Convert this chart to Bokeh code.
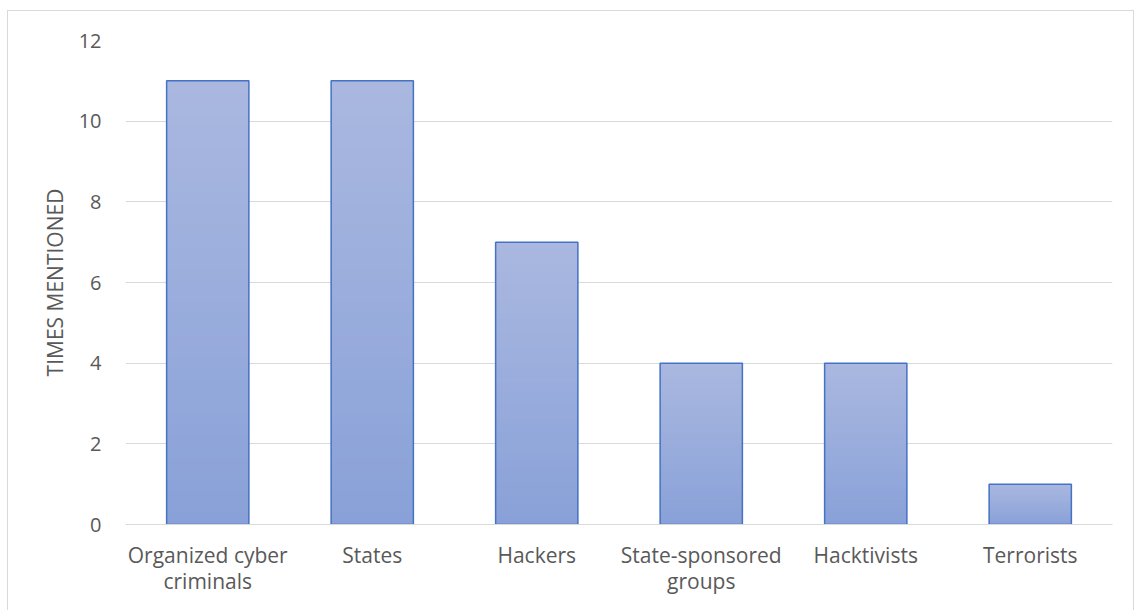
from bokeh.plotting import figure
from bokeh.models import ColumnDataSource
from bokeh.embed import file_html
from bokeh.resources import INLINE

categories = ["Organized cyber\ncriminals", "States", "Hackers", "State-sponsored\ngroups", "Hacktivists", "Terrorists"]
values = [11, 11, 7, 4, 4, 1]
y_ticks = [0, 2, 4, 6, 8, 10, 12]

FONT = "Open Sans"
top_rgb = (0xAA, 0xB8, 0xE0)
bot_rgb = (0x89, 0xA1, 0xD8)
N = 40

xs, bottoms, tops, colors = [], [], [], []
for c, v in zip(categories, values):
    for k in range(N):
        t = (k + 0.5) / N  # 0 bottom -> 1 top
        rgb = tuple(int(round(b + (tp - b) * t)) for b, tp in zip(bot_rgb, top_rgb))
        xs.append(c)
        bottoms.append(v * k / N)
        tops.append(min(v, v * (k + 1.8) / N))
        colors.append("#%02x%02x%02x" % rgb)

p = figure(x_range=categories, y_range=(0, 12), width=1127, height=600,
           frame_width=987, frame_height=484,
           min_border_left=117, min_border_right=21, min_border_top=29, min_border_bottom=86,
           margin=(10, 0, 0, 7),
           styles={"border-left": "1px solid #d9d9d9", "border-top": "1px solid #d9d9d9",
                   "border-right": "1px solid #d9d9d9", "box-sizing": "border-box"},
           output_backend="svg", toolbar_location=None)

p.vbar(x=xs, bottom=bottoms, top=tops, width=0.5, fill_color=colors, line_color=None)
src = ColumnDataSource(dict(x=categories, top=values))
p.vbar(x="x", top="top", bottom=0, width=0.5, source=src, fill_color=None,
       line_color="#4472c4", line_width=1.5)

p.outline_line_color = None
p.xgrid.grid_line_color = None
p.ygrid.grid_line_color = "#d9d9d9"
p.ygrid.grid_line_width = 1
p.yaxis.ticker = y_ticks
p.yaxis.axis_line_color = None
p.yaxis.major_tick_line_color = None
p.yaxis.minor_tick_line_color = None
p.yaxis.major_label_standoff = 18
p.yaxis.major_label_text_font = FONT
p.yaxis.major_label_text_font_size = "20px"
p.yaxis.major_label_text_color = "#595959"
p.yaxis.axis_label = "TIMES MENTIONED"
p.yaxis.axis_label_text_font = FONT
p.yaxis.axis_label_text_font_size = "21px"
p.yaxis.axis_label_text_font_style = "normal"
p.yaxis.axis_label_text_color = "#595959"
p.yaxis.axis_label_standoff = 7

p.xaxis.axis_line_color = "#d9d9d9"
p.xaxis.major_tick_line_color = None
p.xaxis.minor_tick_line_color = None
p.xaxis.major_label_standoff = 10
p.xaxis.major_label_text_font = FONT
p.xaxis.major_label_text_font_size = "21px"
p.xaxis.major_label_text_line_height = 0.95
p.xaxis.major_label_text_color = "#595959"

open("out.html", "w").write(file_html(p, INLINE))
